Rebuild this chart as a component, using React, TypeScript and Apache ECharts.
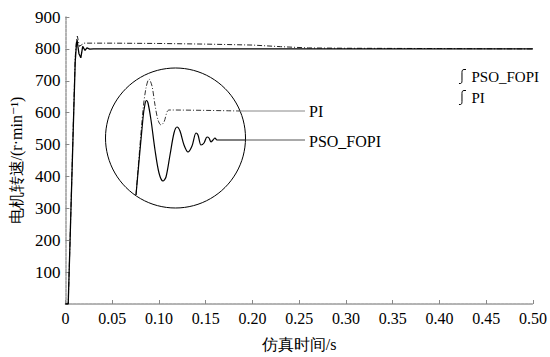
import React, { useEffect, useRef } from "react";
import * as echarts from "echarts";

// Main curves: [time (s), speed (r/min)]
const psoFopi: [number, number][] = [
  [0, 0], [0.003, 0], [0.005, 200], [0.0085, 560], [0.0105, 760], [0.0118, 815], [0.0125, 828],
  [0.0135, 805], [0.0145, 785], [0.0165, 772], [0.0185, 808], [0.021, 795], [0.023, 803],
  [0.026, 799], [0.03, 800], [0.1, 800], [0.2, 800], [0.3, 800], [0.4, 800], [0.5, 800],
];
const pi: [number, number][] = [
  [0, 0], [0.003, 0], [0.005, 200], [0.0085, 570], [0.0105, 775], [0.012, 830], [0.0128, 840],
  [0.014, 822], [0.015, 808], [0.017, 812], [0.02, 818], [0.05, 818], [0.1, 817], [0.15, 815],
  [0.2, 812], [0.23, 807], [0.26, 803], [0.3, 802], [0.4, 801], [0.5, 800],
];

// Zoomed inset curves: [time (ms, zoomed), speed (r/min)]
const psoFopiZoom: [number, number][] = [
  [3.1, 776.5], [3.8, 815], [4.0, 822], [4.15, 823.75], [4.3, 822.5], [4.6, 814], [5.0, 799],
  [5.4, 787.5], [5.8, 783.5], [6.1, 785.5], [6.5, 796.5], [6.9, 807.5], [7.2, 810.5], [7.5, 808.5],
  [7.9, 801.5], [8.3, 798], [8.7, 801], [9.1, 807.5], [9.3, 806.5], [9.6, 801.5], [9.9, 802.5],
  [10.2, 805.5], [10.4, 805], [10.6, 803], [10.8, 804], [11.0, 805], [11.2, 804], [14.05, 804],
];
const piZoom: [number, number][] = [
  [3.1, 776.5], [3.8, 819], [4.1, 830], [4.4, 834.5], [4.7, 831], [5.0, 821.5], [5.3, 814],
  [5.6, 811.5], [5.9, 813], [6.2, 818], [6.4, 819], [13.5, 818.5],
];

const xTicks = [0, 0.05, 0.1, 0.15, 0.2, 0.25, 0.3, 0.35, 0.4, 0.45, 0.5];
const yTicks = [0, 100, 200, 300, 400, 500, 600, 700, 800, 900];

const FONT = "'Liberation Serif', 'Times New Roman', 'DejaVu Serif', serif";
const stepIcon = "path://M0,14 L1.5,14 C2.5,14 3,13 3,11 L3,3 C3,1 3.5,0 5,0 L7,0";

export default function App() {
  const ref = useRef<HTMLDivElement>(null);
  useEffect(() => {
    if (!ref.current) return;
    const chart = echarts.init(ref.current, undefined, { renderer: "svg" });
    const axisLine = { show: true, lineStyle: { color: "#9a9a9a", width: 1.5, type: [3, 1] as any } };
    chart.setOption({
      animation: false,
      backgroundColor: "#fff",
      textStyle: { fontFamily: FONT },
      grid: [
        { left: 63, right: 13, top: 17, bottom: 45 },
        { left: 105, width: 141, top: 68, height: 140 },
      ],
      legend: {
        data: ["PSO_FOPI", "PI"],
        orient: "vertical",
        right: 6,
        top: 64,
        itemWidth: 8,
        itemHeight: 14,
        itemGap: 6,
        icon: stepIcon,
        itemStyle: { color: "transparent", borderColor: "#000", borderWidth: 1 },
        textStyle: { fontFamily: FONT, fontSize: 15, color: "#000" },
      },
      xAxis: [
        {
          type: "value",
          min: xTicks[0],
          max: xTicks[xTicks.length - 1],
          interval: 0.05,
          axisLine,
          axisTick: { show: true, inside: true, length: 4, lineStyle: { color: "#888" } },
          splitLine: { show: false },
          axisLabel: {
            color: "#000",
            fontFamily: FONT,
            fontSize: 16,
            margin: 6,
            formatter: (v: number) => (v === 0 ? "0" : v.toFixed(2)),
          },
          name: "仿真时间/s",
          nameLocation: "middle",
          nameGap: 32,
          nameTextStyle: { color: "#000", fontFamily: FONT, fontSize: 16 },
        },
        { type: "value", gridIndex: 1, min: 0, max: 14.1, show: false },
      ],
      yAxis: [
        {
          type: "value",
          min: yTicks[0],
          max: yTicks[yTicks.length - 1],
          interval: 100,
          axisLine,
          axisTick: { show: true, inside: true, length: 4, lineStyle: { color: "#888" } },
          splitLine: { show: false },
          axisLabel: {
            color: "#000",
            fontFamily: FONT,
            fontSize: 17,
            margin: 5,
            showMinLabel: false,
          },
          name: "电机转速/(r·min⁻¹)",
          nameLocation: "middle",
          nameGap: 38,
          nameRotate: 90,
          nameTextStyle: { color: "#000", fontFamily: FONT, fontSize: 16 },
        },
        { type: "value", gridIndex: 1, min: 770, max: 840, show: false },
      ],
      series: [
        {
          name: "PI",
          type: "line",
          data: pi,
          showSymbol: false,
          lineStyle: { color: "#222", width: 1, type: [5, 2, 1, 2] },
          itemStyle: { color: "transparent", borderColor: "#000" },
          z: 2,
        },
        {
          name: "PSO_FOPI",
          type: "line",
          data: psoFopi,
          showSymbol: false,
          lineStyle: { color: "#000", width: 1.3 },
          itemStyle: { color: "transparent", borderColor: "#000" },
          z: 3,
        },
        {
          name: "piZoom",
          type: "line",
          xAxisIndex: 1,
          yAxisIndex: 1,
          data: piZoom,
          showSymbol: false,
          smooth: 0.3,
          lineStyle: { color: "#333", width: 1, type: [5, 2, 1, 2] },
        },
        {
          name: "psoZoom",
          type: "line",
          xAxisIndex: 1,
          yAxisIndex: 1,
          data: psoFopiZoom,
          showSymbol: false,
          smooth: 0.3,
          lineStyle: { color: "#000", width: 1.2 },
        },
      ],
      graphic: [
        {
          type: "circle",
          shape: { cx: 175.5, cy: 138, r: 70 },
          style: { fill: "none", stroke: "#000", lineWidth: 1 },
          silent: true,
        },
        {
          type: "line",
          shape: { x1: 240, y1: 111, x2: 305, y2: 111 },
          style: { stroke: "#888", lineWidth: 1 },
        },
        {
          type: "line",
          shape: { x1: 245.5, y1: 140, x2: 305, y2: 140 },
          style: { stroke: "#555", lineWidth: 1 },
        },
        {
          type: "text",
          x: 309,
          y: 111,
          style: { text: "PI", fill: "#000", fontSize: 16, fontFamily: FONT, verticalAlign: "middle" },
        },
        {
          type: "text",
          x: 309,
          y: 141,
          style: { text: "PSO_FOPI", fill: "#000", fontSize: 16, fontFamily: FONT, verticalAlign: "middle" },
        },
      ],
    });
    return () => chart.dispose();
  }, []);
  return (
    <div
      ref={ref}
      style={{ position: "fixed", left: 0, top: 0, width: 550, height: 357 }}
    />
  );
}
